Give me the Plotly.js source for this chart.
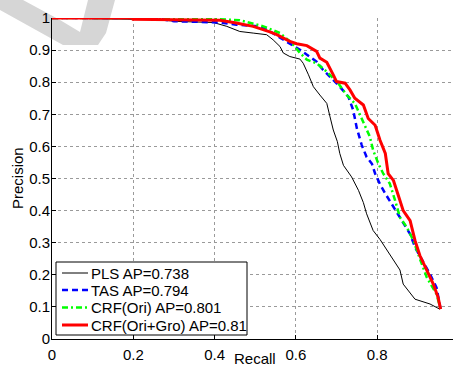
<!DOCTYPE html>
<html>
<head>
<meta charset="utf-8">
<script src="https://cdn.plot.ly/plotly-3.0.1.min.js"></script>
<style>html,body{margin:0;padding:0;background:#fff;}#chart{width:453px;height:369px;}</style>
</head>
<body>
<div id="chart"></div>
<script>
// Series names
var seriesNames = ["PLS AP=0.738", "TAS AP=0.794", "CRF(Ori) AP=0.801", "CRF(Ori+Gro) AP=0.81"];

// PLS (black)
var plsRecall = [0, 0.25, 0.315, 0.397, 0.430, 0.462, 0.495, 0.528, 0.544, 0.561, 0.569, 0.585, 0.610, 0.618, 0.631, 0.643, 0.659, 0.676, 0.684, 0.692, 0.702, 0.708, 0.717, 0.737, 0.754, 0.766, 0.774, 0.790, 0.807, 0.831, 0.856, 0.864, 0.893, 0.930, 0.954];
var plsPrecision = [1, 0.995, 0.989, 0.986, 0.974, 0.958, 0.953, 0.948, 0.932, 0.911, 0.891, 0.880, 0.872, 0.859, 0.823, 0.786, 0.760, 0.734, 0.692, 0.651, 0.615, 0.578, 0.541, 0.505, 0.463, 0.425, 0.390, 0.338, 0.310, 0.262, 0.215, 0.171, 0.124, 0.109, 0.093];

// TAS (blue)
var tasRecall = [0, 0.25, 0.30, 0.413, 0.454, 0.512, 0.540, 0.569, 0.610, 0.651, 0.667, 0.684, 0.708, 0.729, 0.741, 0.750, 0.762, 0.774, 0.787, 0.795, 0.807, 0.820, 0.840, 0.860, 0.881, 0.893, 0.909, 0.930, 0.946, 0.956];
var tasPrecision = [1, 1, 0.990, 0.986, 0.979, 0.974, 0.955, 0.932, 0.901, 0.864, 0.838, 0.817, 0.786, 0.755, 0.713, 0.656, 0.604, 0.567, 0.546, 0.515, 0.482, 0.453, 0.411, 0.369, 0.327, 0.286, 0.250, 0.202, 0.160, 0.093];

// CRF(Ori) (green)
var oriRecall = [0, 0.35, 0.462, 0.520, 0.561, 0.590, 0.610, 0.627, 0.651, 0.676, 0.704, 0.725, 0.745, 0.766, 0.782, 0.790, 0.803, 0.815, 0.831, 0.844, 0.856, 0.873, 0.889, 0.905, 0.922, 0.946, 0.956];
var oriPrecision = [1, 1, 0.993, 0.974, 0.953, 0.922, 0.891, 0.870, 0.859, 0.833, 0.797, 0.760, 0.734, 0.677, 0.630, 0.588, 0.546, 0.515, 0.484, 0.432, 0.379, 0.348, 0.307, 0.250, 0.192, 0.140, 0.093];

// CRF(Ori+Gro) (red)
var groRecall = [0, 0.2, 0.2, 0.30, 0.413, 0.45, 0.495, 0.536, 0.553, 0.585, 0.602, 0.627, 0.651, 0.659, 0.676, 0.692, 0.700, 0.721, 0.733, 0.745, 0.766, 0.778, 0.795, 0.807, 0.820, 0.827, 0.840, 0.852, 0.864, 0.881, 0.893, 0.905, 0.922, 0.938, 0.950, 0.956];
var groPrecision = [1, 1, 0.996, 0.995, 0.993, 0.985, 0.974, 0.957, 0.948, 0.927, 0.920, 0.914, 0.896, 0.875, 0.862, 0.823, 0.802, 0.797, 0.776, 0.750, 0.729, 0.687, 0.666, 0.619, 0.578, 0.515, 0.494, 0.447, 0.400, 0.369, 0.307, 0.260, 0.213, 0.171, 0.129, 0.093];

// Tick labels
var xTickVals = [0, 0.2, 0.4, 0.6, 0.8];
var xTickText = ["0", "0.2", "0.4", "0.6", "0.8"];
var yTickVals = [0, 0.1, 0.2, 0.3, 0.4, 0.5, 0.6, 0.7, 0.8, 0.9, 1];
var yTickText = ["0", "0.1", "0.2", "0.3", "0.4", "0.5", "0.6", "0.7", "0.8", "0.9", "1"];

// Axis titles
var xTitle = "Recall";
var yTitle = "Precision";

var FONT = "Liberation Sans, Arial, Helvetica, sans-serif";

var styles = [
  {color: "#000000", width: 1, dash: "solid"},
  {color: "#0000ff", width: 2.5, dash: "6px,4px"},
  {color: "#00ff00", width: 2.5, dash: "6px,3px,2px,3px"},
  {color: "#ff0000", width: 3, dash: "solid"}
];
var xs = [plsRecall, tasRecall, oriRecall, groRecall];
var ys = [plsPrecision, tasPrecision, oriPrecision, groPrecision];

var traces = xs.map(function (x, i) {
  return {x: x, y: ys[i], name: seriesNames[i], mode: "lines", showlegend: false,
          line: {color: styles[i].color, width: styles[i].width, dash: styles[i].dash}};
});

// pixel -> paper helpers (plot area: left 52, top 18, 401 x 321 px)
var PL = 52, PB = 339, PW = 401, PH = 321;
function px(v) { return (v - PL) / PW; }
function py(v) { return (PB - v) / PH; }

// decorative grey background mark at top-left
var markPts = [[0,0],[23,0],[60,20],[80,32],[88,0],[115,0],[106,33],[98,45],[63,45],[0,10]];
var markPath = markPts.map(function (p, i) { return (i ? "L" : "M") + px(p[0]) + "," + py(p[1]); }).join(" ") + " Z";

var shapes = [
  {type: "path", xref: "paper", yref: "paper", path: markPath, fillcolor: "#d6d6d6", line: {width: 0}, layer: "below"},
  // legend box
  {type: "rect", xref: "paper", yref: "paper", x0: px(56), x1: px(247), y0: py(335), y1: py(262),
   fillcolor: "#ffffff", line: {color: "#000000", width: 1}, layer: "above"}
];
var annotations = [
  {xref: "paper", yref: "paper", x: px(255), y: py(358.5), xanchor: "center", yanchor: "middle", borderpad: 0,
   text: xTitle, showarrow: false, font: {family: FONT, size: 15, color: "#000000"}},
  {xref: "paper", yref: "paper", x: px(17), y: py(178), xanchor: "center", yanchor: "middle", textangle: -90,
   text: yTitle, showarrow: false, font: {family: FONT, size: 15, color: "#000000"}}
];
var rowY = [273, 290, 307.5, 325];
seriesNames.forEach(function (n, i) {
  shapes.push({type: "line", xref: "paper", yref: "paper", x0: px(62), x1: px(88), y0: py(rowY[i]), y1: py(rowY[i]),
               line: {color: styles[i].color, width: styles[i].width, dash: styles[i].dash}, layer: "above"});
  annotations.push({xref: "paper", yref: "paper", x: px(89), y: py(rowY[i]), xanchor: "left", yanchor: "middle",
                    text: n, showarrow: false, font: {family: FONT, size: 15, color: "#000000"}});
});

var layout = {
  width: 453, height: 369,
  margin: {l: PL, r: 453 - PL - PW, t: 18, b: 369 - PB, pad: 0},
  paper_bgcolor: "#ffffff", plot_bgcolor: "#ffffff",
  font: {family: FONT, size: 15, color: "#000000"},
  showlegend: false,
  xaxis: {
    range: [0, 0.9865], tickvals: xTickVals, ticktext: xTickText,
    showline: true, linecolor: "#000000", linewidth: 1,
    ticks: "inside", ticklen: 4, tickcolor: "#000000", ticklabelstandoff: 2,
    showgrid: true, gridcolor: "#9a9a9a", griddash: "dot", gridwidth: 1,
    zeroline: false, automargin: false
  },
  yaxis: {
    range: [0, 1], tickvals: yTickVals, ticktext: yTickText,
    showline: true, linecolor: "#000000", linewidth: 1,
    ticks: "inside", ticklen: 4, tickcolor: "#000000", ticklabelstandoff: -2,
    showgrid: true, gridcolor: "#9a9a9a", griddash: "dot", gridwidth: 1,
    zeroline: false, automargin: false
  },
  shapes: shapes,
  annotations: annotations
};

Plotly.newPlot("chart", traces, layout, {displayModeBar: false, staticPlot: true});
</script>
</body>
</html>
